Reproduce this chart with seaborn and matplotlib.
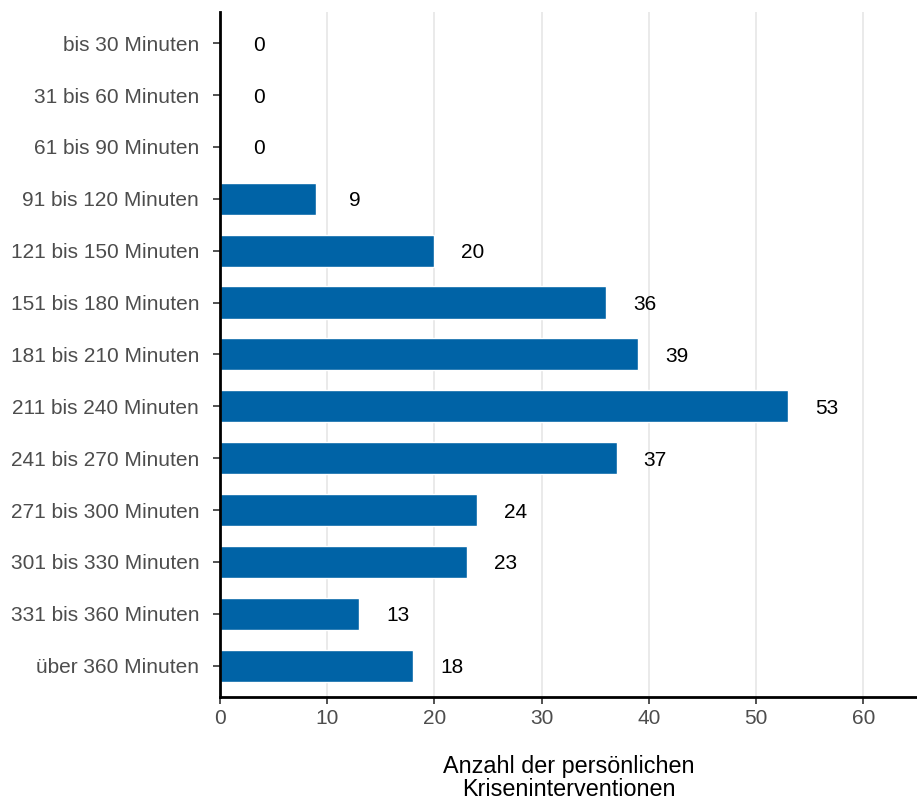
import matplotlib
matplotlib.use("Agg")
import matplotlib.pyplot as plt
import seaborn as sns
import pandas as pd

categories = ["bis 30 Minuten", "31 bis 60 Minuten", "61 bis 90 Minuten", "91 bis 120 Minuten",
              "121 bis 150 Minuten", "151 bis 180 Minuten", "181 bis 210 Minuten",
              "211 bis 240 Minuten", "241 bis 270 Minuten", "271 bis 300 Minuten",
              "301 bis 330 Minuten", "331 bis 360 Minuten", "über 360 Minuten"]
values = [0, 0, 0, 9, 20, 36, 39, 53, 37, 24, 23, 13, 18]
x_ticks = [0, 10, 20, 30, 40, 50, 60]
x_label = "Anzahl der persönlichen\nKriseninterventionen"

sns.set_theme(style="white")
plt.rcParams["font.family"] = ["Liberation Sans", "DejaVu Sans"]

df = pd.DataFrame({"cat": categories, "val": values})

fig = plt.figure(figsize=(9.17, 8), dpi=100)
ax = fig.add_axes([0.2399, 0.129, 0.7601, 0.856])

ax.set_axisbelow(True)
ax.grid(axis="x", color="#e6e6e6", linewidth=1.2)
sns.barplot(data=df, x="val", y="cat", orient="h", color="#0063A6", saturation=1,
            width=0.62, ax=ax)

for i, v in enumerate(values):
    ax.text(v + 3.6, i, str(v), ha="center", va="center_baseline", fontsize=15, color="black")

ax.set_xlim(0, 65)
ax.set_ylim(12.6, -0.6)
ax.set_xticks(x_ticks)
ax.set_xlabel(x_label, fontsize=16.8, color="black", labelpad=19.5, linespacing=1.0)
ax.set_ylabel("")
ax.tick_params(axis="both", labelsize=15, labelcolor="#4d4d4d", colors="#333333",
               length=5, width=1.2, left=True, bottom=True)
ax.tick_params(axis="y", pad=10)
ax.tick_params(axis="x", pad=4)
for s in ["top", "right"]:
    ax.spines[s].set_visible(False)
for s in ["left", "bottom"]:
    ax.spines[s].set_color("black")
    ax.spines[s].set_linewidth(2)

fig.savefig("out.png", dpi=100)
